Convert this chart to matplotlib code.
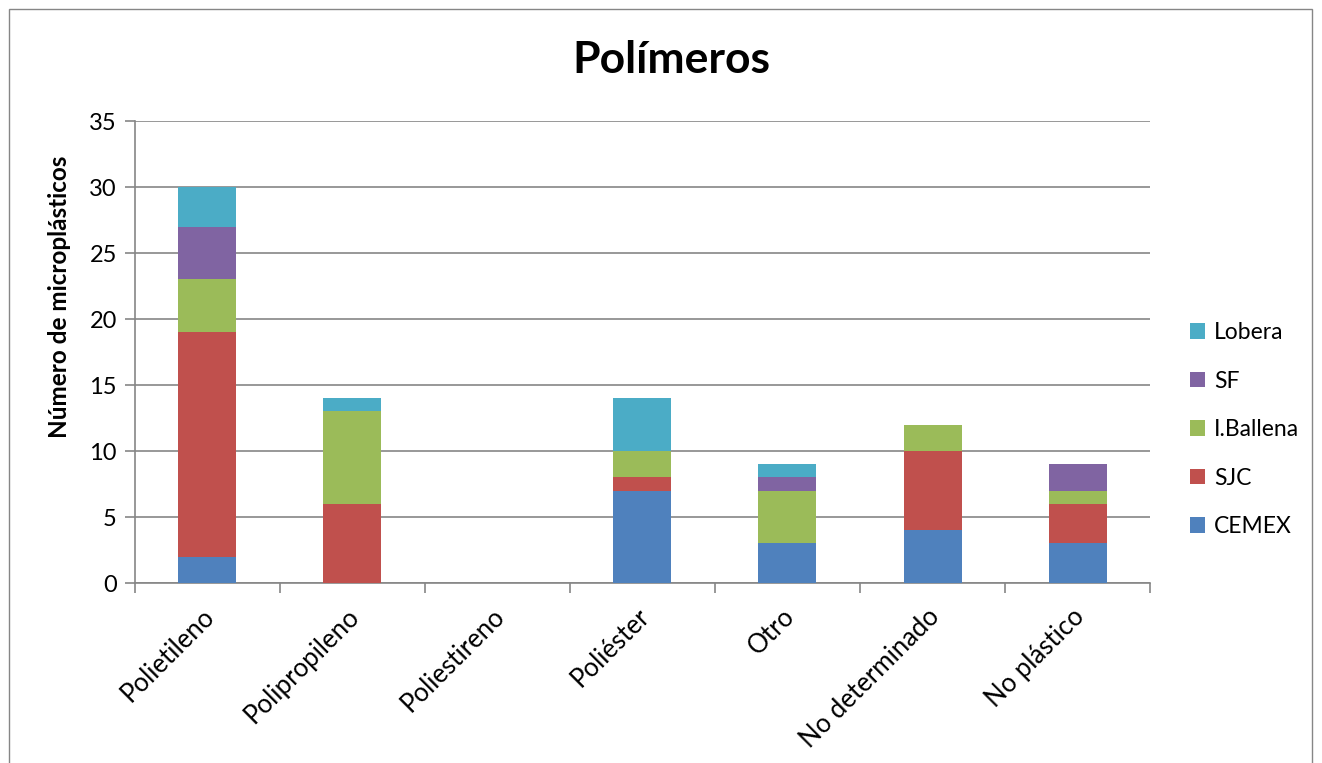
import matplotlib.pyplot as plt
import matplotlib.patches as mpatches
import matplotlib.transforms as mtransforms
import numpy as np

plt.rcParams['font.family'] = ['Lato', 'DejaVu Sans']

categories = ['Polietileno', 'Polipropileno', 'Poliestireno', 'Poliéster',
              'Otro', 'No determinado', 'No plástico']
series_names = ['CEMEX', 'SJC', 'I.Ballena', 'SF', 'Lobera']
cemex = [2, 0, 0, 7, 3, 4, 3]
sjc = [17, 6, 0, 1, 0, 6, 3]
ballena = [4, 7, 0, 2, 4, 2, 1]
sf = [4, 0, 0, 0, 1, 0, 2]
lobera = [3, 1, 0, 4, 1, 0, 0]
colors = ['#4F81BD', '#C0504D', '#9BBB59', '#8064A2', '#4BACC6']

fig = plt.figure(figsize=(13.22, 7.63), dpi=100)
ax = fig.add_axes([0.1021, 0.2359, 0.7678, 0.6055])

x = np.arange(len(categories))
bottom = np.zeros(len(categories))
handles = []
for name, vals, c in zip(series_names, [cemex, sjc, ballena, sf, lobera], colors):
    b = ax.bar(x, vals, 0.4, bottom=bottom, color=c, label=name,
               edgecolor='none', zorder=3)
    handles.append(b)
    bottom += np.array(vals)

gray = '#868686'
ax.set_ylim(0, 35)
ax.set_xlim(-0.5, len(categories) - 0.5)
ax.set_yticks(range(0, 36, 5))
ax.yaxis.grid(True, color=gray, linewidth=1.2, zorder=0)
ax.set_axisbelow(True)

# ticks sit between categories, labels at the bar centres
ax.set_xticks(np.arange(-0.5, len(categories), 1.0))
ax.set_xticklabels([])
ax.set_xticks(x, minor=True)
ax.set_xticklabels(categories, minor=True, rotation=45, ha='right',
                   rotation_mode='anchor', fontsize=18.5)
ax.tick_params(axis='x', which='minor', length=0, pad=15)
ax.tick_params(axis='x', which='major', length=7, color=gray, width=1.2)
ax.tick_params(axis='y', length=7, color=gray, width=1.2, labelsize=17, pad=6)
shift = mtransforms.ScaledTranslation(-6 / 100, 0, fig.dpi_scale_trans)
for lbl in ax.get_xticklabels(minor=True):
    lbl.set_transform(lbl.get_transform() + shift)

for s in ['top', 'right']:
    ax.spines[s].set_visible(False)
for s in ['left', 'bottom']:
    ax.spines[s].set_color(gray)
    ax.spines[s].set_linewidth(1.2)

ax.set_ylabel('Número de microplásticos', fontsize=17.5, fontweight='bold',
              labelpad=10)
ax.yaxis.set_label_coords(-0.063, 0.619)
fig.text(0.5076, 0.921, 'Polímeros', ha='center', va='center',
         fontsize=32, fontweight='bold')

leg = fig.legend(handles[::-1], series_names[::-1], loc='center left',
                 bbox_to_anchor=(0.893, 0.437), frameon=False, fontsize=16.5,
                 handlelength=0.65, handleheight=0.65, handletextpad=0.4,
                 labelspacing=1.2, borderaxespad=0)

fig.patches.append(mpatches.Rectangle((9 / 1322, -0.01), 1303 / 1322, 1 - 9 / 763 + 0.01,
                                      transform=fig.transFigure, fill=False,
                                      edgecolor=gray, linewidth=1.0))

fig.savefig('out.png', dpi=100)
